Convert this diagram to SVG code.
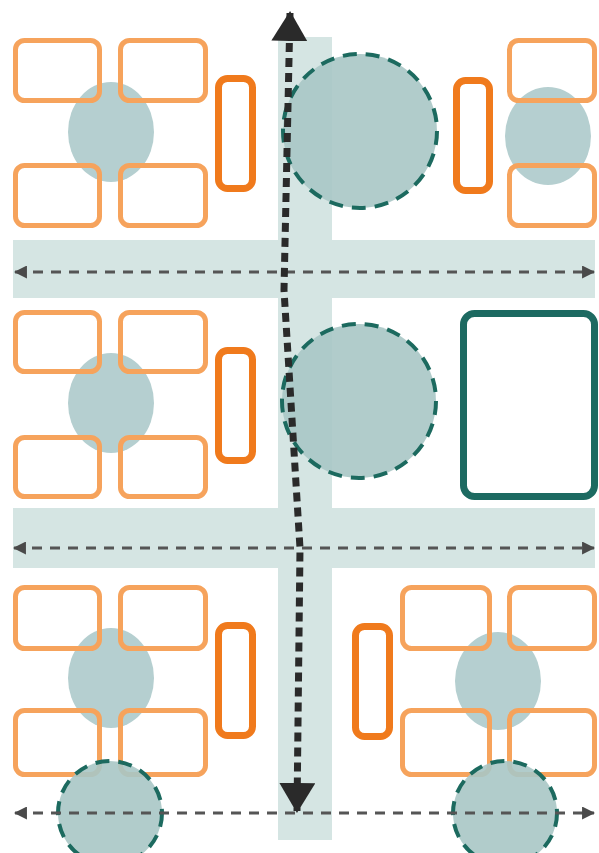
<svg xmlns="http://www.w3.org/2000/svg" width="599" height="853" viewBox="0 0 599 853">
<style>
.band{fill:#d5e5e3}
.zone{fill:#b5cfd0}
.pool{fill:#a8c7c5;fill-opacity:0.9;stroke:#1c6a5f;stroke-width:4;stroke-dasharray:14 9}
.box{fill:none;stroke:#f6a35c;stroke-width:5}
.bar{fill:none;stroke:#f07a1c;stroke-width:7}
.hall{fill:none;stroke:#1d6a61;stroke-width:7}
.hflow{fill:none;stroke:#555;stroke-width:3;stroke-dasharray:10 8}
.vflow{fill:none;stroke:#2a2a2a;stroke-width:7;stroke-dasharray:9 6}
</style>
<defs>
<marker id="sh" viewBox="0 0 12 12" refX="11" refY="6" markerWidth="13" markerHeight="13" markerUnits="userSpaceOnUse" orient="auto-start-reverse"><path d="M0,0 L12,6 L0,12 Z" fill="#4a4a4a"/></marker>
<marker id="bh" viewBox="0 0 30 36" refX="28" refY="18" markerWidth="30" markerHeight="36" markerUnits="userSpaceOnUse" orient="auto-start-reverse"><path d="M0,0 L30,18 L0,36 Z" fill="#2a2a2a"/></marker>
</defs>
<rect width="599" height="853" fill="#fff"/>
<g id="bands">
<rect class="band" x="278" y="37" width="54" height="803"/>
<rect class="band" x="13" y="240" width="582" height="58"/>
<rect class="band" x="13" y="508" width="582" height="60"/>
</g>
<g id="group-top-left">
<ellipse class="zone" cx="111" cy="132" rx="43" ry="50"/>
<rect class="box" x="15.5" y="40.5" width="84" height="60" rx="9"/>
<rect class="box" x="120.5" y="40.5" width="85" height="60" rx="9"/>
<rect class="box" x="15.5" y="165.5" width="84" height="60" rx="9"/>
<rect class="box" x="120.5" y="165.5" width="85" height="60" rx="9"/>
<rect class="bar" x="218.5" y="78.5" width="34" height="110" rx="9"/>
</g>
<g id="pool-top"><circle class="pool" cx="360" cy="131" r="77"/></g>
<g id="group-top-right">
<ellipse class="zone" cx="548" cy="136" rx="43" ry="49"/>
<rect class="box" x="509.5" y="40.5" width="85" height="60" rx="9"/>
<rect class="box" x="509.5" y="165.5" width="85" height="60" rx="9"/>
<rect class="bar" x="456.5" y="80.5" width="33" height="110" rx="9"/>
</g>
<g id="group-mid-left">
<ellipse class="zone" cx="111" cy="403" rx="43" ry="50"/>
<rect class="box" x="15.5" y="312.5" width="84" height="59" rx="9"/>
<rect class="box" x="120.5" y="312.5" width="85" height="59" rx="9"/>
<rect class="box" x="15.5" y="437.5" width="84" height="59" rx="9"/>
<rect class="box" x="120.5" y="437.5" width="85" height="59" rx="9"/>
<rect class="bar" x="218.5" y="350.5" width="34" height="110" rx="9"/>
</g>
<g id="pool-mid"><circle class="pool" cx="359" cy="401" r="77"/></g>
<g id="hall"><rect class="hall" x="463.5" y="313.5" width="131" height="183" rx="11"/></g>
<g id="group-bottom-left">
<ellipse class="zone" cx="111" cy="678" rx="43" ry="50"/>
<rect class="box" x="15.5" y="587.5" width="84" height="61" rx="9"/>
<rect class="box" x="120.5" y="587.5" width="85" height="61" rx="9"/>
<rect class="box" x="15.5" y="710.5" width="84" height="64" rx="9"/>
<rect class="box" x="120.5" y="710.5" width="85" height="64" rx="9"/>
<rect class="bar" x="218.5" y="625.5" width="34" height="110" rx="9"/>
</g>
<g id="group-bottom-right">
<ellipse class="zone" cx="498" cy="681" rx="43" ry="49"/>
<rect class="box" x="402.5" y="587.5" width="87" height="61" rx="9"/>
<rect class="box" x="509.5" y="587.5" width="85" height="61" rx="9"/>
<rect class="box" x="402.5" y="710.5" width="87" height="64" rx="9"/>
<rect class="box" x="509.5" y="710.5" width="85" height="64" rx="9"/>
<rect class="bar" x="355.5" y="626.5" width="34" height="110" rx="9"/>
</g>
<g id="pool-bottom-left"><circle class="pool" cx="110" cy="813" r="52"/></g>
<g id="pool-bottom-right"><circle class="pool" cx="505" cy="813" r="52"/></g>
<g id="connectors">
<line class="hflow" x1="15" y1="272" x2="594" y2="272" marker-start="url(#sh)" marker-end="url(#sh)"/>
<line class="hflow" x1="14" y1="548" x2="594" y2="548" marker-start="url(#sh)" marker-end="url(#sh)"/>
<line class="hflow" x1="15" y1="813" x2="594" y2="813" marker-start="url(#sh)" marker-end="url(#sh)"/>
<path class="vflow" d="M290,13 L284,290 L300,548 L297,811" marker-start="url(#bh)" marker-end="url(#bh)"/>
</g>
</svg>
